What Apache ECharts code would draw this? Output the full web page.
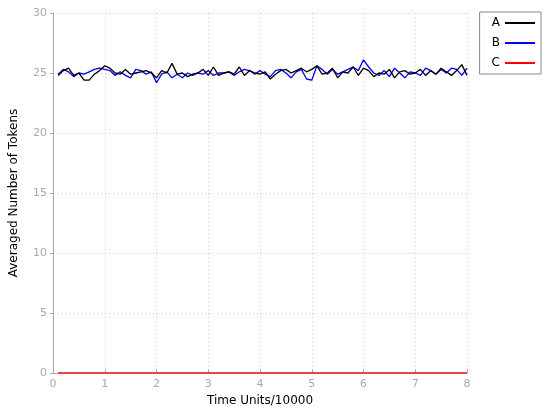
<!DOCTYPE html>
<html>
<head>
<meta charset="utf-8">
<script src="https://cdn.jsdelivr.net/npm/echarts@6/dist/echarts.min.js"></script>
<style>html,body{margin:0;padding:0;background:#fff}#c{width:550px;height:412px}</style>
</head>
<body>
<div id="c"></div>
<script>
const xValues = [];
for (let i = 1; i <= 80; i++) xValues.push(+(i / 10).toFixed(1));
const seriesNames = ['A', 'B', 'C'];
const seriesA = [
  24.8, 25.2, 25.4, 24.8, 25.0, 24.4, 24.4, 24.9, 25.2, 25.6,
  25.4, 25.0, 24.9, 25.3, 24.9, 25.0, 25.1, 25.2, 25.0, 24.6,
  25.2, 25.0, 25.8, 24.9, 25.0, 24.7, 24.9, 25.0, 25.3, 24.8,
  25.5, 24.8, 25.0, 25.1, 24.9, 25.5, 24.8, 25.2, 25.0, 24.9,
  25.1, 24.5, 24.9, 25.2, 25.3, 25.0, 25.2, 25.4, 25.1, 25.3,
  25.6, 24.9, 25.0, 25.4, 24.6, 25.1, 25.0, 25.5, 24.8, 25.4,
  25.2, 24.7, 25.0, 24.9, 25.3, 24.6, 25.1, 25.2, 24.9, 25.0,
  25.3, 24.8, 25.2, 24.9, 25.4, 25.1, 24.8, 25.2, 25.7, 24.8
];
const seriesB = [
  24.9, 25.3, 25.1, 24.7, 25.0, 24.9, 25.1, 25.3, 25.4, 25.3,
  25.2, 24.8, 25.1, 24.8, 24.6, 25.3, 25.2, 24.9, 25.1, 24.2,
  24.9, 25.1, 24.6, 24.9, 24.6, 25.0, 24.8, 25.0, 24.9, 25.2,
  24.8, 25.0, 25.0, 25.1, 24.8, 25.1, 25.3, 25.2, 24.9, 25.2,
  24.9, 24.7, 25.2, 25.3, 25.0, 24.6, 25.1, 25.3, 24.5, 24.4,
  25.6, 25.3, 24.9, 25.3, 24.9, 25.1, 25.3, 25.5, 25.2, 26.1,
  25.5, 25.0, 24.8, 25.2, 24.7, 25.4, 25.0, 24.6, 25.1, 25.0,
  24.8, 25.4, 25.2, 24.9, 25.3, 25.0, 25.4, 25.3, 24.8, 25.4
];
const seriesC = xValues.map(() => 0);
const colors = ['#000000', '#0000ff', '#ff0000'];
const allSeries = [seriesA, seriesB, seriesC];

const chart = echarts.init(document.getElementById('c'), null, {renderer: 'canvas'});
const font = 'Verdana, "DejaVu Sans", sans-serif';
const gridColor = '#ff9c9c';
chart.setOption({
  animation: false,
  backgroundColor: '#fff',
  grid: {left: 49, right: 83, top: 13, bottom: 35, containLabel: false},
  legend: {
    right: 9, top: 12,
    orient: 'vertical',
    align: 'right',
    itemWidth: 30, itemHeight: 2, itemGap: 8,
    padding: [5, 6, 5, 12],
    borderColor: '#888', borderWidth: 1,
    textStyle: {fontFamily: font, fontSize: 12, color: '#000'},
    icon: 'rect',
    data: seriesNames
  },
  xAxis: {
    type: 'value', min: 0, max: 8, interval: 1,
    name: 'Time Units/10000', nameLocation: 'middle', nameGap: 22,
    nameTextStyle: {fontFamily: font, fontSize: 12, color: '#000'},
    axisLine: {lineStyle: {color: '#aaa'}},
    axisTick: {inside: true, length: 4, lineStyle: {color: '#aaa'}},
    axisLabel: {fontFamily: font, fontSize: 11, color: '#aaa', margin: 6},
    splitLine: {show: true, lineStyle: {color: gridColor, type: [1, 3], width: 1, opacity: 0.7}}
  },
  yAxis: {
    type: 'value', min: 0, max: 30, interval: 5,
    name: 'Averaged Number of Tokens', nameLocation: 'middle', nameGap: 33,
    nameTextStyle: {fontFamily: font, fontSize: 12, color: '#000'},
    axisLine: {show: true, lineStyle: {color: '#aaa'}},
    axisTick: {show: true, length: 3, lineStyle: {color: '#aaa'}},
    axisLabel: {fontFamily: font, fontSize: 11, color: '#aaa', margin: 6},
    splitLine: {show: true, lineStyle: {color: gridColor, type: [1, 3], width: 1, opacity: 0.7}}
  },
  series: seriesNames.map((n, i) => ({
    name: n, type: 'line', symbol: 'none',
    data: xValues.map((x, j) => [x, allSeries[i][j]]),
    lineStyle: {width: 1.3, color: colors[i]},
    itemStyle: {color: colors[i]},
    z: 3 - i
  }))
});
</script>
</body>
</html>
